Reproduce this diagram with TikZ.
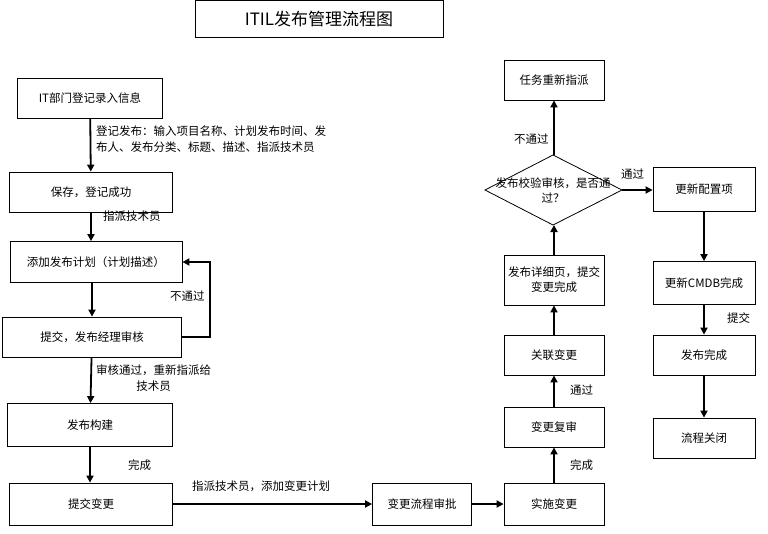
\documentclass[tikz,border=0pt]{standalone}
\usepackage{fontspec}
\setmainfont{Liberation Sans}
\newfontfamily\cjk{Noto Sans CJK SC}
\usetikzlibrary{shapes.geometric,arrows.meta}
\tikzset{
  box/.style={draw,thick,minimum height=40pt,align=center,font=\cjk\fontsize{11.5}{15}\selectfont},
  flow/.style={line width=1.8pt,-{Triangle[length=7pt,width=7pt]}},
  lbl/.style={font=\cjk\fontsize{11.5}{16}\selectfont,anchor=north west,inner sep=0pt}
}
\begin{document}
\begin{tikzpicture}[x=1pt,y=-1pt]
  \useasboundingbox (0,0) rectangle (768,533);
  \node[draw,thick,minimum width=248pt,minimum height=37pt,font=\cjk\fontsize{17}{20}\selectfont] (Title) at (319,19) {ITIL发布管理流程图};
  % left column
  \node[box,minimum width=145pt] (Reg) at (90,98) {IT部门登记录入信息};
  \node[box,minimum width=163pt] (Save) at (91,192) {保存，登记成功};
  \node[box,minimum width=172pt,minimum height=41pt] (Plan) at (96,262) {添加发布计划（计划描述）};
  \node[box,minimum width=179pt] (Submit) at (92,337) {提交，发布经理审核};
  \node[box,minimum width=165pt,minimum height=43pt] (Build) at (90,425) {发布构建};
  \node[box,minimum width=163pt,minimum height=42pt] (Change) at (91,504) {提交变更};
  % bottom and middle column
  \node[box,minimum width=99pt,minimum height=42pt] (Approve) at (422,504) {变更流程审批};
  \node[box,minimum width=100pt,minimum height=42pt] (Impl) at (554,504) {实施变更};
  \node[box,minimum width=100pt] (Review) at (554,427) {变更复审};
  \node[box,minimum width=100pt] (Link) at (554,355) {关联变更};
  \node[box,minimum width=100pt,minimum height=50pt] (Detail) at (554,280) {发布详细页，提交\\变更完成};
  % decision diamond
  \coordinate (CheckN) at (553,155);
  \coordinate (CheckS) at (553,225);
  \coordinate (CheckE) at (622,190);
  \coordinate (CheckW) at (485,190);
  \draw[thick] (CheckN) -- (CheckE) -- (CheckS) -- (CheckW) -- cycle;
  \node[align=center,inner sep=0pt,font=\cjk\fontsize{11.5}{15}\selectfont] (Check) at (553,190) {发布校验审核，是否通\\过？};
  \node[box,minimum width=100pt] (Reassign) at (554,80) {任务重新指派};
  % right column
  \node[box,minimum width=102pt,minimum height=44pt] (Config) at (704,189) {更新配置项};
  \node[box,minimum width=102pt,minimum height=43pt] (Cmdb) at (704,283) {更新CMDB完成};
  \node[box,minimum width=102pt] (Done) at (704,355) {发布完成};
  \node[box,minimum width=102pt] (Close) at (704,438) {流程关闭};
  % connectors
  \draw[flow] (Reg) -- (Save);
  \draw[flow] (Save) -- (Save |- Plan.north);
  \draw[flow] (Plan.south -| Submit) -- (Submit);
  \draw[flow] (Submit.east) -- ++(28,0) |- (Plan.east);
  \draw[flow] (Submit) -- (Build);
  \draw[flow] (Build) -- (Build |- Change.north);
  \draw[flow] (Change) -- (Approve);
  \draw[flow] (Approve) -- (Impl);
  \draw[flow] (Impl) -- (Review);
  \draw[flow] (Review) -- (Link);
  \draw[flow] (Link) -- (Detail);
  \draw[flow] (Detail) -- (Detail |- CheckS);
  \draw[flow] (CheckN -| Reassign) -- (Reassign);
  \draw[flow] (CheckE) -- (Config.west |- CheckE);
  \draw[flow] (Config) -- (Cmdb);
  \draw[flow] (Cmdb) -- (Done);
  \draw[flow] (Done) -- (Close);
  % labels
  \node[lbl,align=left] (LReg) at (96,126) {登记发布：输入项目名称、计划发布时间、发\\布人、发布分类、标题、描述、指派技术员};
  \node[lbl] (LSave) at (103,211) {指派技术员};
  \node[lbl] (LFail) at (170,291) {不通过};
  \node[lbl,align=center] (LPass) at (96,365) {审核通过，重新指派给\\技术员};
  \node[lbl] (LBuild) at (128,460) {完成};
  \node[lbl] (LChange) at (192,481) {指派技术员，添加变更计划};
  \node[lbl] (LImpl) at (570,460) {完成};
  \node[lbl] (LReview) at (570,385) {通过};
  \node[lbl] (LCheckNo) at (514,134) {不通过};
  \node[lbl] (LCheckYes) at (621,169) {通过};
  \node[lbl] (LCmdb) at (727,313) {提交};
\end{tikzpicture}
\end{document}
